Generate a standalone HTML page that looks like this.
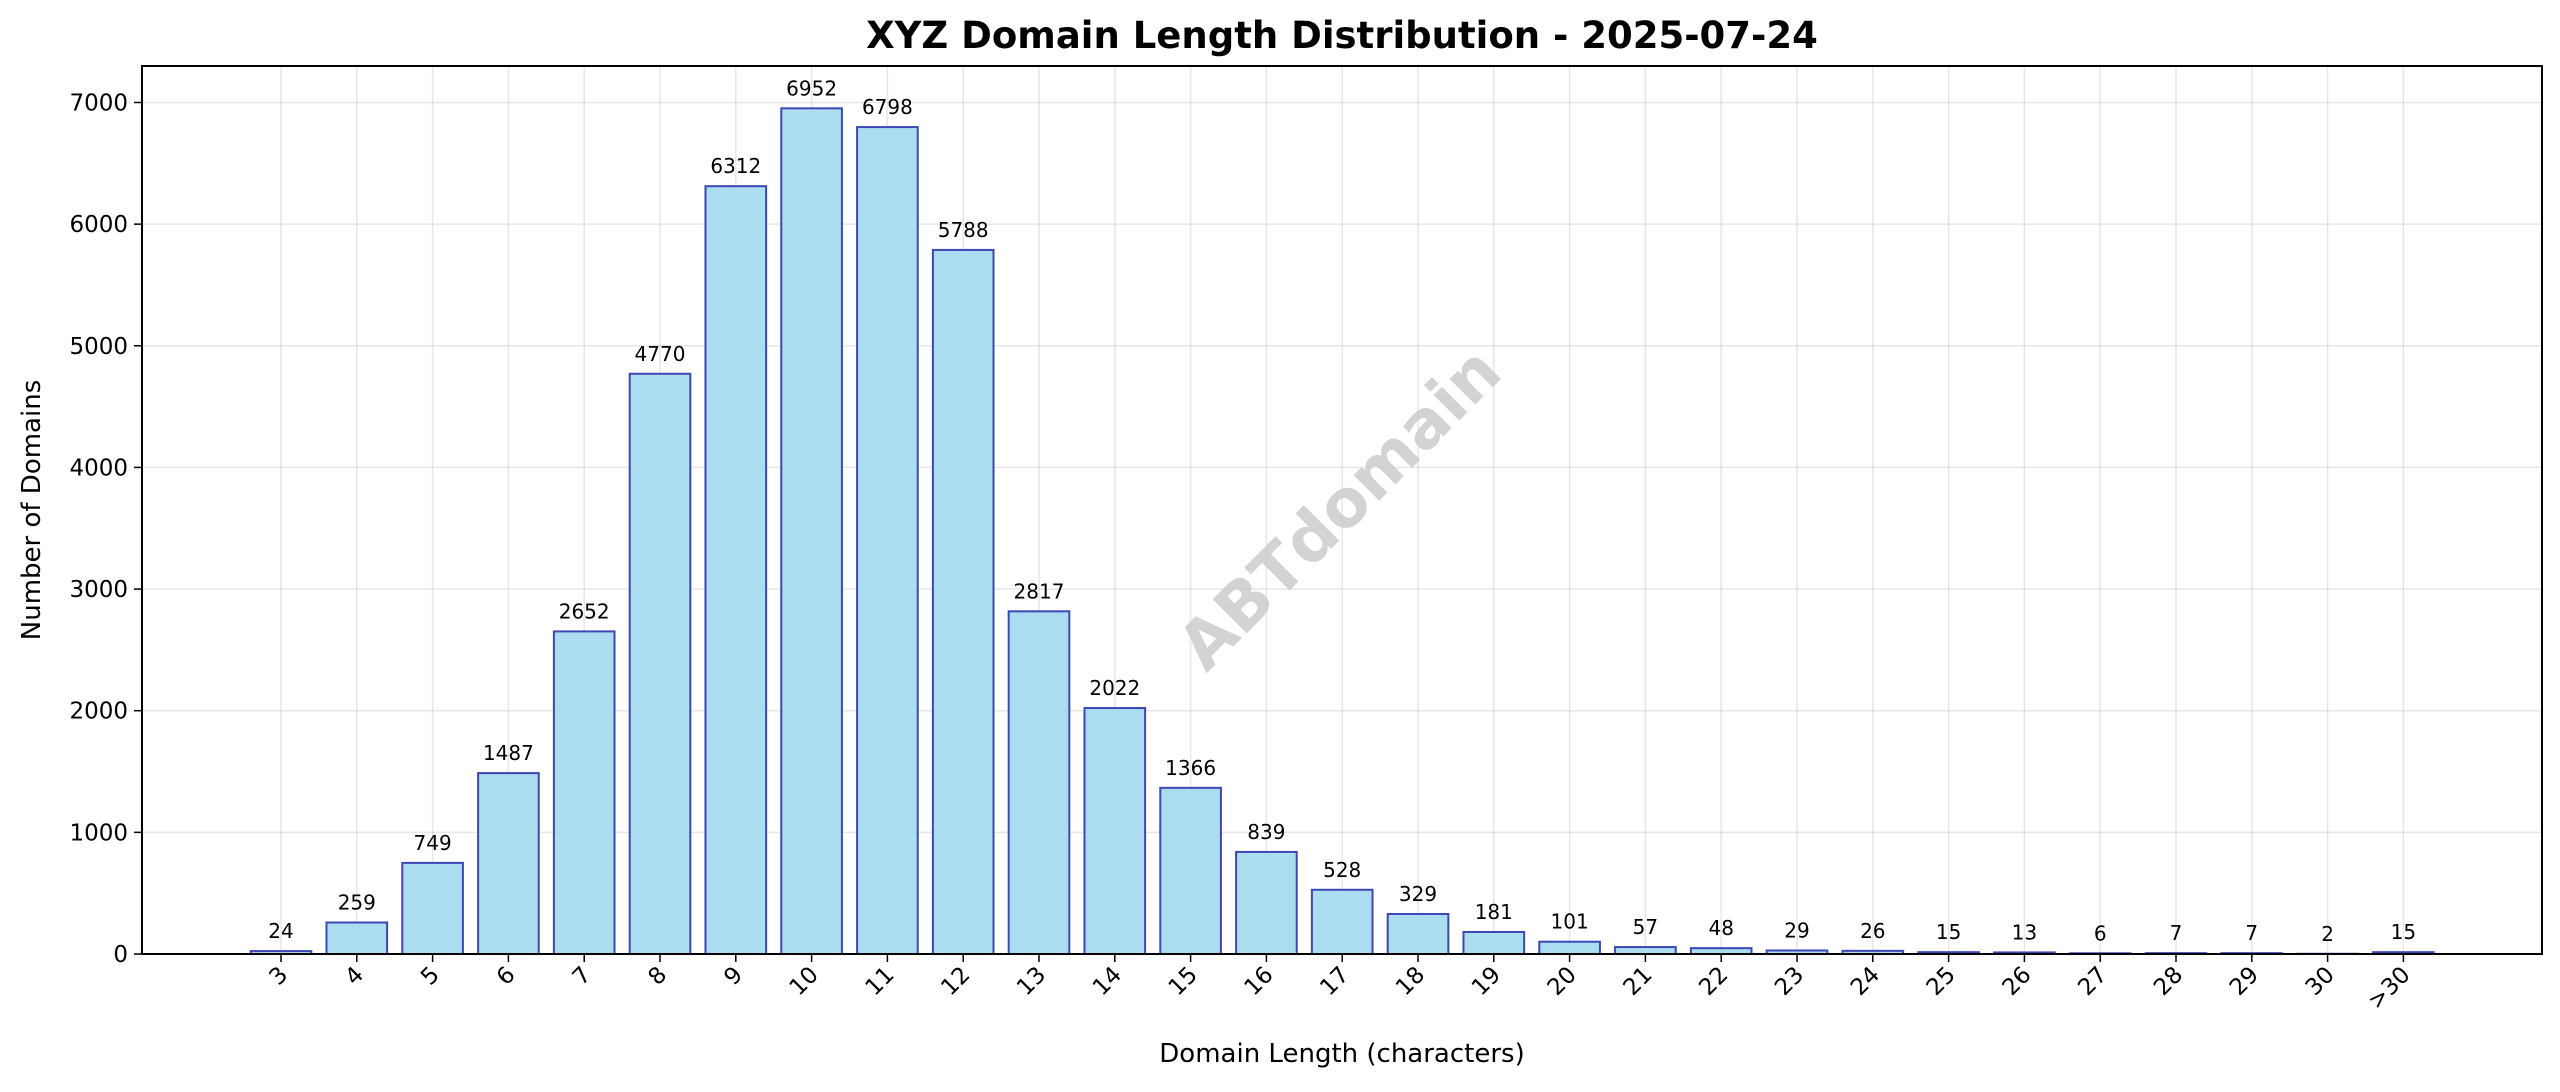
<!DOCTYPE html>
<html><head><meta charset="utf-8"><style>
body{margin:0;background:#fff}
text{font-family:"DejaVu Sans","Liberation Sans",sans-serif}
</style></head><body>
<svg id="chart" width="2560" height="1087" xmlns="http://www.w3.org/2000/svg">
<rect width="2560" height="1087" fill="#fff"/>
<text x="1342" y="48" text-anchor="middle" font-size="37" font-weight="bold">XYZ Domain Length Distribution - 2025-07-24</text>
<g id="grid"></g>
<text x="1342" y="530" text-anchor="middle" font-size="66" font-weight="bold" fill="#c8c8c8" fill-opacity="0.8" transform="rotate(-45 1342 511)">ABTdomain</text>
<g id="bars"></g>
<g id="axes"></g>
<text x="1342" y="1062" text-anchor="middle" font-size="26">Domain Length (characters)</text>
<text x="40" y="510" text-anchor="middle" font-size="26" transform="rotate(-90 40 510)">Number of Domains</text>
</svg>
<script>
const categories=["3","4","5","6","7","8","9","10","11","12","13","14","15","16","17","18","19","20","21","22","23","24","25","26","27","28","29","30",">30"];
const counts=[24,259,749,1487,2652,4770,6312,6952,6798,5788,2817,2022,1366,839,528,329,181,101,57,48,29,26,15,13,6,7,7,2,15];
const yTicks=[0,1000,2000,3000,4000,5000,6000,7000];
const L=142,R=2542,T=66,B=954,YMAX=7300;
const step=75.8,x0=281;
const xs=i=>x0+i*step;
const ys=v=>B-(v/YMAX)*(B-T);
const NS="http://www.w3.org/2000/svg";
function mk(tag,attrs,parent){const e=document.createElementNS(NS,tag);for(const k in attrs)e.setAttribute(k,attrs[k]);parent.appendChild(e);return e;}
const grid=document.getElementById('grid'),bars=document.getElementById('bars'),axes=document.getElementById('axes');
yTicks.forEach(t=>{
 const y=ys(t);
 const g=mk('line',{x1:L,x2:R,y1:y,y2:y,stroke:'#b0b0b0','stroke-opacity':0.3,'stroke-width':1.5},grid);
 
 
 const tk=mk('line',{x1:L-8,x2:L,y1:y,y2:y,stroke:'#000','stroke-width':1.5},axes);
 
 
 const lb=mk('text',{x:L-14,y:y+8,'text-anchor':'end','font-size':23},axes);
 lb.textContent=t;
 
 
});
categories.forEach((c,i)=>{
 const x=xs(i);
 const g=mk('line',{x1:x,x2:x,y1:T,y2:B,stroke:'#b0b0b0','stroke-opacity':0.3,'stroke-width':1.5},grid);
 
 
 const v=counts[i],bw=step*0.8;
 const r=mk('rect',{x:x-bw/2,y:ys(v),width:bw,height:B-ys(v),fill:'#abdcf0',stroke:'#3d47b5','stroke-width':2},bars);
 
 
 const vl=mk('text',{x:x,y:ys(v)-13,'text-anchor':'middle','font-size':20},bars);
 vl.textContent=v;
 
 
 const tk=mk('line',{x1:x,x2:x,y1:B,y2:B+8,stroke:'#000','stroke-width':1.5},axes);
 
 
 const lb=mk('text',{x:x+8,y:B+22,'text-anchor':'end','font-size':23,transform:`rotate(-45 ${x+8} ${B+22})`},axes);
 lb.textContent=c;
 
 
});
const fr=mk('rect',{x:L,y:T,width:R-L,height:B-T,fill:'none',stroke:'#000','stroke-width':2},axes);


</script>
</body></html>
